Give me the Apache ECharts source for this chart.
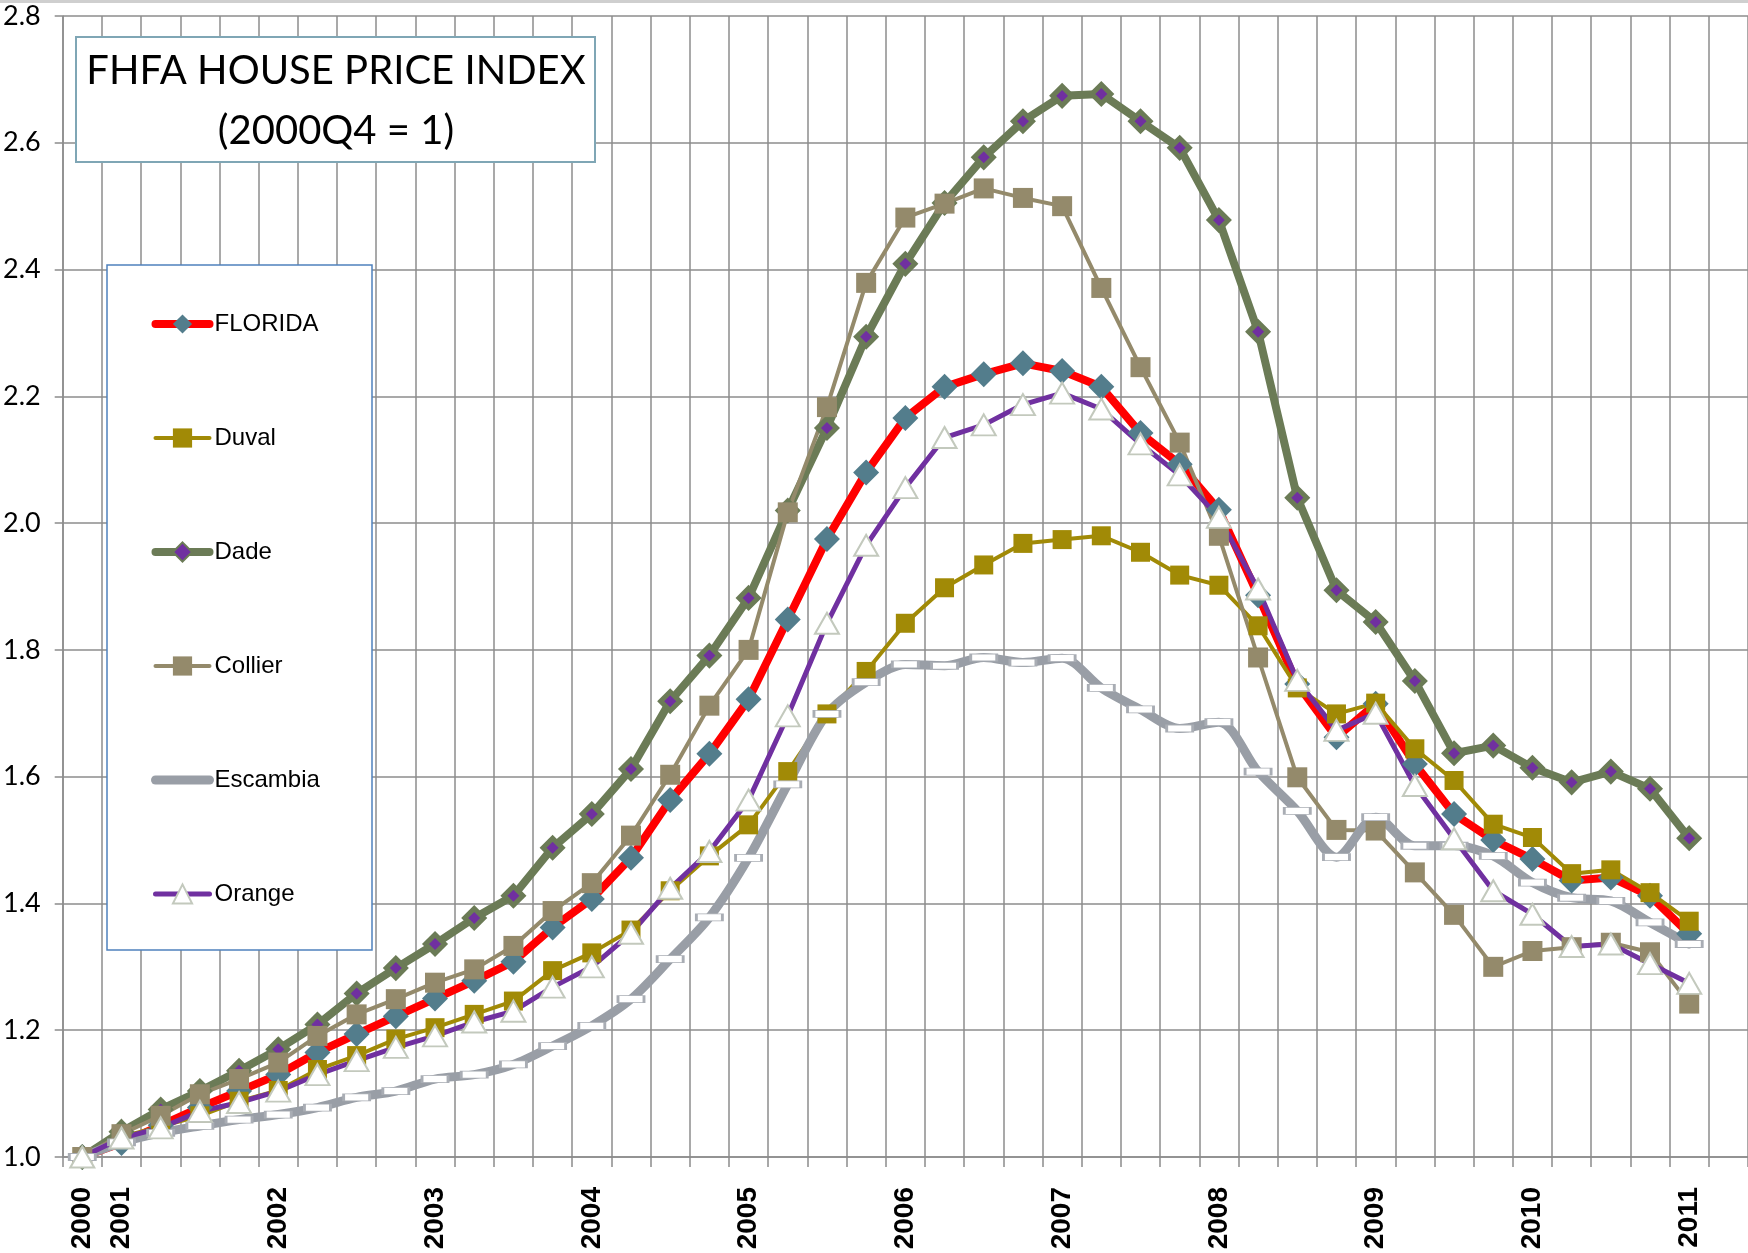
<!DOCTYPE html>
<html>
<head>
<meta charset="utf-8">
<title>FHFA House Price Index</title>
<script src="https://cdn.jsdelivr.net/npm/echarts@6.0.0/dist/echarts.min.js"></script>
<style>
  html, body { margin: 0; padding: 0; background: #fff; }
  #chart { width: 1748px; height: 1253px; }
</style>
</head>
<body>
<div id="chart"></div>
<script>
// quarters, 2000Q4 .. 2011Q2 (last one is empty, the plot runs off the right edge)
const categories = [
  '2000Q4',
  '2001Q1', '2001Q2', '2001Q3', '2001Q4',
  '2002Q1', '2002Q2', '2002Q3', '2002Q4',
  '2003Q1', '2003Q2', '2003Q3', '2003Q4',
  '2004Q1', '2004Q2', '2004Q3', '2004Q4',
  '2005Q1', '2005Q2', '2005Q3', '2005Q4',
  '2006Q1', '2006Q2', '2006Q3', '2006Q4',
  '2007Q1', '2007Q2', '2007Q3', '2007Q4',
  '2008Q1', '2008Q2', '2008Q3', '2008Q4',
  '2009Q1', '2009Q2', '2009Q3', '2009Q4',
  '2010Q1', '2010Q2', '2010Q3', '2010Q4',
  '2011Q1', '2011Q2'
]

const tickLabels = [
  '2000',
  '2001', '', '', '',
  '2002', '', '', '',
  '2003', '', '', '',
  '2004', '', '', '',
  '2005', '', '', '',
  '2006', '', '', '',
  '2007', '', '', '',
  '2008', '', '', '',
  '2009', '', '', '',
  '2010', '', '', '',
  '2011', ''
]

const florida = [1.0, 1.022, 1.05, 1.078, 1.104, 1.13, 1.165, 1.194, 1.222, 1.25, 1.278, 1.308,
  1.362, 1.407, 1.472, 1.563, 1.636, 1.722, 1.848, 1.975, 2.08, 2.166, 2.215, 2.235, 2.252, 2.24,
  2.215, 2.142, 2.093, 2.021, 1.886, 1.746, 1.662, 1.715, 1.62, 1.541, 1.5, 1.47, 1.436, 1.441, 1.412, 1.352]

const duval = [1.0, 1.032, 1.048, 1.065, 1.088, 1.105, 1.138, 1.16, 1.186, 1.204, 1.225, 1.246,
  1.294, 1.322, 1.358, 1.42, 1.475, 1.524, 1.608, 1.699, 1.766, 1.842, 1.898, 1.934, 1.968, 1.974,
  1.98, 1.954, 1.918, 1.902, 1.838, 1.74, 1.699, 1.716, 1.644, 1.594, 1.525, 1.504, 1.447, 1.453, 1.417, 1.372]

const dade = [1.0, 1.04, 1.075, 1.104, 1.136, 1.17, 1.209, 1.258, 1.298, 1.336, 1.377, 1.412,
  1.488, 1.541, 1.612, 1.719, 1.791, 1.882, 2.02, 2.15, 2.294, 2.409, 2.505, 2.577, 2.634, 2.674,
  2.677, 2.634, 2.592, 2.478, 2.302, 2.04, 1.894, 1.844, 1.751, 1.637, 1.649, 1.614, 1.591, 1.608, 1.581, 1.503]

const collier = [1.0, 1.036, 1.065, 1.099, 1.123, 1.149, 1.191, 1.225, 1.249, 1.275, 1.296, 1.333,
  1.388, 1.432, 1.507, 1.603, 1.712, 1.8, 2.017, 2.183, 2.379, 2.482, 2.504, 2.528, 2.513, 2.5,
  2.371, 2.246, 2.127, 1.98, 1.788, 1.599, 1.516, 1.515, 1.449, 1.382, 1.3, 1.325, 1.331, 1.338, 1.323, 1.242]

const escambia = [1.0, 1.023, 1.038, 1.049, 1.059, 1.067, 1.078, 1.094, 1.104, 1.123, 1.13, 1.146,
  1.175, 1.207, 1.249, 1.312, 1.378, 1.472, 1.588, 1.699, 1.749, 1.777, 1.775, 1.788, 1.78, 1.787,
  1.74, 1.706, 1.676, 1.686, 1.608, 1.546, 1.473, 1.536, 1.491, 1.491, 1.475, 1.433, 1.409, 1.404, 1.37, 1.336]

const orange = [1.0, 1.03, 1.046, 1.072, 1.086, 1.104, 1.13, 1.152, 1.173, 1.191, 1.213, 1.23,
  1.268, 1.3, 1.353, 1.424, 1.482, 1.563, 1.696, 1.842, 1.965, 2.056, 2.135, 2.155, 2.187, 2.205,
  2.18, 2.125, 2.076, 2.009, 1.896, 1.752, 1.673, 1.7, 1.586, 1.502, 1.42, 1.383, 1.332, 1.336, 1.305, 1.274]

const GRID = '#8c8c8c'

function makeSeries(name, data, o) {
  return {
    name,
    type: 'line',
    data,
    smooth: o.smooth || false,
    symbol: o.symbol,
    symbolSize: o.size,
    showAllSymbol: true,
    lineStyle: { color: o.line, width: o.width, cap: 'round', join: 'round' },
    itemStyle: {
      color: o.fill,
      borderColor: o.border || o.fill,
      borderWidth: o.borderWidth || 0
    },
    emphasis: { disabled: true }
  }
}

const chart = echarts.init(document.getElementById('chart'))

chart.setOption({
  backgroundColor: '#fff',
  animation: false,
  grid: { left: 61, top: 16, width: 1690, height: 1141, containLabel: false },
  xAxis: {
    type: 'category',
    data: categories,
    boundaryGap: true,
    axisLine: { lineStyle: { color: GRID, width: 1.5 } },
    axisTick: { show: true, interval: 0, length: 10, lineStyle: { color: GRID, width: 1.5 } },
    splitLine: { show: true, interval: 0, lineStyle: { color: GRID, width: 1.5 } },
    axisLabel: {
      interval: 0,
      rotate: 90,
      margin: 30,
      color: '#000',
      fontFamily: 'Liberation Sans',
      fontWeight: 'bold',
      fontSize: 28,
      formatter: (v, i) => tickLabels[i]
    }
  },
  yAxis: {
    type: 'value',
    min: 1.0,
    max: 2.8,
    interval: 0.2,
    axisLine: { show: true, lineStyle: { color: GRID, width: 1.5 } },
    axisTick: { show: true, length: 8, lineStyle: { color: GRID, width: 1.5 } },
    splitLine: { show: true, lineStyle: { color: GRID, width: 1.5 } },
    axisLabel: {
      margin: 22,
      color: '#000',
      fontFamily: 'Lato',
      fontSize: 27,
      formatter: (v) => v.toFixed(1)
    }
  },
  legend: {
    orient: 'vertical',
    left: 146,
    top: 301,
    itemWidth: 54,
    itemHeight: 24,
    itemGap: 78,
    z: 10,
    lineStyle: { width: 'inherit', cap: 'round' },
    textStyle: { fontFamily: 'Liberation Sans', fontSize: 24, color: '#000', lineHeight: 36 },
    data: ['FLORIDA', 'Duval', 'Dade', 'Collier', { name: 'Escambia', itemStyle: { opacity: 0 } }, 'Orange']
  },
  graphic: [
    {
      type: 'rect',
      z: 5,
      shape: { x: 76, y: 37, width: 519, height: 125 },
      style: { fill: '#fff', stroke: '#7fa6b5', lineWidth: 2 }
    },
    {
      type: 'text',
      z: 6,
      x: 336,
      y: 101,
      style: {
        text: 'FHFA HOUSE PRICE INDEX\n(2000Q4 = 1)',
        fontFamily: 'Lato',
        fontSize: 40,
        lineHeight: 60,
        fill: '#000',
        align: 'center',
        verticalAlign: 'middle'
      }
    },
    {
      type: 'rect',
      z: 5,
      shape: { x: 107, y: 265, width: 265, height: 685 },
      style: { fill: '#fff', stroke: '#4f81bd', lineWidth: 1.5 }
    },
    {
      type: 'rect',
      z: 5,
      shape: { x: 0, y: 0, width: 1748, height: 3 },
      style: { fill: '#cfcfcf' }
    }
  ],
  series: [
    makeSeries('FLORIDA', florida, { line: '#ff0000', width: 8, symbol: 'diamond', size: 26, fill: '#537d8c' }),
    makeSeries('Duval', duval, { line: '#a18a06', width: 4, symbol: 'rect', size: 19, fill: '#a18a06' }),
    makeSeries('Dade', dade, { line: '#6b7b56', width: 8, symbol: 'diamond', size: 19, fill: '#7030a0', border: '#6b7b56', borderWidth: 5 }),
    makeSeries('Collier', collier, { line: '#948a6b', width: 4, symbol: 'rect', size: 20, fill: '#948a6b' }),
    makeSeries('Escambia', escambia, { line: '#999ea6', width: 9, symbol: 'rect', size: [26, 7], fill: '#fff', border: '#a9adb4', borderWidth: 1.5, smooth: 0.3 }),
    makeSeries('Orange', orange, { line: '#7030a0', width: 5, symbol: 'triangle', size: [24, 21], fill: '#fff', border: '#c3c9bd', borderWidth: 2 })
  ]
})
</script>
</body>
</html>
